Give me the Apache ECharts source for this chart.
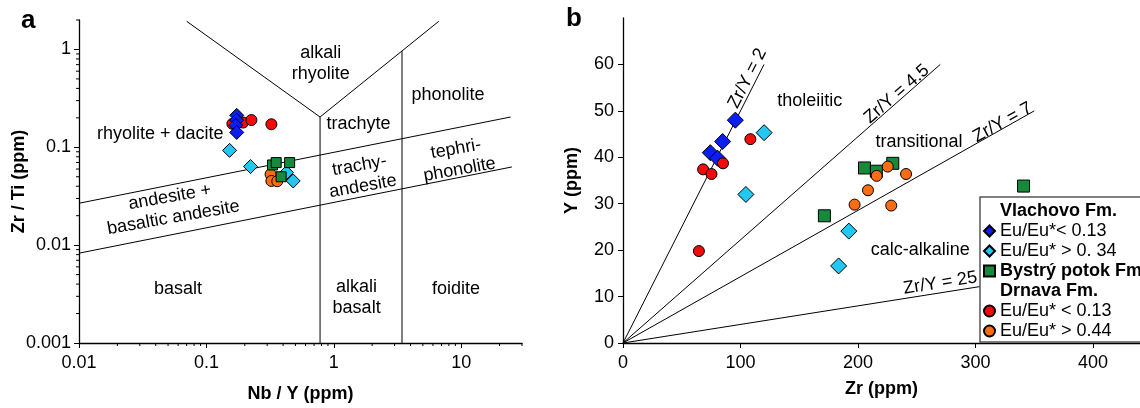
<!DOCTYPE html>
<html>
<head>
<meta charset="utf-8">
<script src="https://cdn.jsdelivr.net/npm/echarts@6/dist/echarts.min.js"></script>
<style>
  html, body { margin: 0; padding: 0; background: #fff; }
  #chart { width: 1140px; height: 408px; }
</style>
</head>
<body>
<div id="chart"></div>
<script>
// ---- data ----
// panel a: Nb/Y vs Zr/Ti (log-log)
const vlachovoLowA = [[0.173, 0.212], [0.173, 0.189], [0.170, 0.168], [0.173, 0.142]];
const vlachovoHighA = [[0.152, 0.093], [0.222, 0.0636], [0.425, 0.0552], [0.48, 0.0453]];
const bystryA = [[0.33, 0.066], [0.353, 0.0698], [0.45, 0.0698], [0.386, 0.050]];
const drnavaLowA = [[0.16, 0.174], [0.194, 0.179], [0.2255, 0.19], [0.3236, 0.172]];
const drnavaHighA = [[0.319, 0.053], [0.3236, 0.0453], [0.36, 0.045]];

// field boundaries (panel a)
const boundaryV = [[0.07, 1.94], [0.78, 0.204], [6.67, 1.94]];
const boundaryLeftVert = [[0.78, 0.204], [0.78, 0.001]];
const boundaryRightVert = [[3.43, 0.96], [3.43, 0.001]];
const boundaryUpper = [[0.01, 0.0268], [24.4, 0.204]];
const boundaryLower = [[0.01, 0.00828], [25, 0.063]];

// field names (panel a): text, x, y, rotation
const fieldNamesA = [
  ['alkali\nrhyolite', 0.789, 0.725, 0],
  ['phonolite', 7.89, 0.342, 0],
  ['trachyte', 1.56, 0.172, 0],
  ['rhyolite + dacite', 0.0435, 0.138, 0],
  ['tephri-\nphonolite', 9.4, 0.0754, 10],
  ['trachy-\nandesite', 1.64, 0.0509, 10],
  ['andesite +\nbasaltic andesite', 0.0533, 0.0243, 10],
  ['basalt', 0.0598, 0.00356, 0],
  ['alkali\nbasalt', 1.51, 0.00292, 0],
  ['foidite', 9.1, 0.00356, 0]
];

// panel b: Zr vs Y
const vlachovoLowB = [[95.6, 48.0], [84.8, 43.4], [74.3, 41.0], [80.5, 39.8]];
const vlachovoHighB = [[120.1, 45.3], [104.6, 32.0], [192.2, 24.1], [183.5, 16.6]];
const bystryB = [[205.5, 37.7], [215.6, 37.0], [229.6, 38.7], [171.4, 27.4], [340.9, 33.8]];
const drnavaLowB = [[68.2, 37.4], [75.3, 36.4], [85.1, 38.7], [108.4, 43.9], [64.6, 19.8]];
const drnavaHighB = [[225.3, 38.0], [215.9, 36.0], [240.9, 36.4], [208.5, 32.9], [197.1, 29.8], [228.3, 29.6]];

// Zr/Y ratio lines: end points from origin
const ratioLines = [
  [[0, 0], [120, 60]],
  [[0, 0], [270, 60]],
  [[0, 0], [350, 50]],
  [[0, 0], [425, 17]]
];
const ratioNames = [
  ['Zr/Y = 2', 106, 57, 63],
  ['Zr/Y = 4.5', 233, 53.6, 41],
  ['Zr/Y = 7', 323, 47.5, 29],
  ['Zr/Y = 25', 270, 12.9, 9],
  ['tholeiitic', 159, 52.1, 0],
  ['transitional', 252, 43.3, 0],
  ['calc-alkaline', 253, 20.1, 0]
];

// log axis minor tick multipliers
const minorMult = [2, 3, 4, 5, 6, 7, 8, 9];
const xDecades = [0.01, 0.1, 1, 10];
const yDecades = [0.001, 0.01, 0.1, 1];

// ---- styles ----
const FONT = '"Liberation Sans", Arial, sans-serif';
const C_BLUE = '#0a1ef0';
const C_LBLUE = '#22c8f2';
const C_GREEN = '#16893a';
const C_RED = '#f50a0a';
const C_ORANGE = '#ff6c12';

const chart = echarts.init(document.getElementById('chart'));

function minorTicks() {
  const out = [];
  xDecades.forEach(d => minorMult.forEach(m => {
    const v = d * m;
    if (v <= 30.0001) out.push([v, 0.001, 0]);
  }));
  yDecades.forEach(d => minorMult.forEach(m => {
    const v = d * m;
    if (v <= 2.0001) out.push([0.01, v, 1]);
  }));
  return out;
}

function logLabel(v) {
  return String(Number(v.toPrecision(3)));
}

const axisLine = { lineStyle: { color: '#000', width: 1.3 } };
const tickLabel = { color: '#000', fontSize: 18, fontFamily: FONT };
const nameStyle = { color: '#000', fontSize: 18, fontWeight: 'bold', fontFamily: FONT };

function boundary(data, xi, yi) {
  return {
    type: 'line', xAxisIndex: xi, yAxisIndex: yi, data: data,
    symbol: 'none', silent: true, z: 1,
    lineStyle: { color: '#000', width: 1 }
  };
}

function points(name, data, symbol, size, color, xi, yi) {
  return {
    type: 'scatter', name: name, xAxisIndex: xi, yAxisIndex: yi,
    data: data, symbol: symbol, symbolSize: size,
    itemStyle: { color: color, borderColor: '#000', borderWidth: 1, opacity: 1 }
  };
}

function names(list, xi, yi) {
  return {
    type: 'scatter', xAxisIndex: xi, yAxisIndex: yi, silent: true,
    symbolSize: 1, itemStyle: { color: 'transparent', opacity: 1 }, z: 3,
    data: list.map(t => ({
      value: [t[1], t[2]],
      label: { formatter: t[0], rotate: t[3] }
    })),
    label: {
      show: true, position: 'inside', color: '#000', opacity: 1, fontSize: 18,
      fontFamily: FONT, lineHeight: 21, align: 'center'
    }
  };
}

const option = {
  animation: false,
  textStyle: { fontFamily: FONT },
  graphic: [
    { type: 'text', left: 21, top: 8, style: { text: 'a', font: 'bold 26px ' + FONT, fill: '#000' } },
    { type: 'text', left: 566, top: 6, style: { text: 'b', font: 'bold 26px ' + FONT, fill: '#000' } }
  ],
  grid: [
    { left: 79, top: 20, width: 443, height: 324 },
    { left: 623, top: 18, width: 519, height: 325 }
  ],
  xAxis: [
    {
      type: 'log', gridIndex: 0, min: 0.01, max: 30, logBase: 10,
      name: 'Nb / Y (ppm)', nameLocation: 'middle', nameGap: 42, nameTextStyle: nameStyle,
      axisLine: axisLine,
      axisTick: { length: 5, lineStyle: { color: '#000' } },
      axisLabel: Object.assign({ margin: 11, showMaxLabel: false, formatter: logLabel }, tickLabel),
      splitLine: { show: false }
    },
    {
      type: 'value', gridIndex: 1, min: 0, max: 440, interval: 100,
      name: 'Zr (ppm)', nameLocation: 'middle', nameGap: 37, nameTextStyle: nameStyle,
      axisLine: axisLine,
      axisTick: { length: 5, lineStyle: { color: '#000' } },
      axisLabel: Object.assign({ margin: 11, showMaxLabel: false }, tickLabel),
      splitLine: { show: false }
    }
  ],
  yAxis: [
    {
      type: 'log', gridIndex: 0, min: 0.001, max: 2, logBase: 10,
      name: 'Zr / Ti (ppm)', nameLocation: 'middle', nameGap: 51, nameMoveOverlap: false,
      nameTextStyle: nameStyle,
      axisLine: axisLine,
      axisTick: { length: 5, lineStyle: { color: '#000' } },
      axisLabel: Object.assign({ margin: 8, showMaxLabel: false, formatter: logLabel }, tickLabel),
      splitLine: { show: false }
    },
    {
      type: 'value', gridIndex: 1, min: 0, max: 70, interval: 10,
      name: 'Y (ppm)', nameLocation: 'middle', nameGap: 42, nameTextStyle: nameStyle,
      axisLine: axisLine,
      axisTick: { length: 5, lineStyle: { color: '#000' } },
      axisLabel: Object.assign({ margin: 9, showMaxLabel: false }, tickLabel),
      splitLine: { show: false }
    }
  ],
  legend: {
    orient: 'vertical', left: 980, top: 197,
    backgroundColor: '#fff', borderColor: '#555', borderWidth: 1.5,
    padding: [5, 40, 2, 3], itemGap: 2, itemWidth: 11, itemHeight: 11,
    textStyle: { fontSize: 18, color: '#000', fontFamily: FONT, lineHeight: 18 },
    selectedMode: false,
    data: [
      { name: 'Vlachovo Fm.', itemStyle: { opacity: 0 }, textStyle: { fontWeight: 'bold' } },
      { name: 'Eu/Eu*< 0.13' },
      { name: 'Eu/Eu* > 0. 34' },
      { name: 'Bystrý potok Fm.', textStyle: { fontWeight: 'bold' } },
      { name: 'Drnava Fm.', itemStyle: { opacity: 0 }, textStyle: { fontWeight: 'bold' } },
      { name: 'Eu/Eu* < 0.13' },
      { name: 'Eu/Eu* > 0.44' }
    ]
  },
  series: [
    // panel a boundaries
    boundary(boundaryV, 0, 0),
    boundary(boundaryLeftVert, 0, 0),
    boundary(boundaryRightVert, 0, 0),
    boundary(boundaryUpper, 0, 0),
    boundary(boundaryLower, 0, 0),
    names(fieldNamesA, 0, 0),
    // minor ticks for the log axes
    {
      type: 'custom', xAxisIndex: 0, yAxisIndex: 0, silent: true, clip: false,
      data: minorTicks(),
      renderItem: function (params, api) {
        const p = api.coord([api.value(0), api.value(1)]);
        const horiz = api.value(2) === 0;
        return {
          type: 'line',
          shape: horiz
            ? { x1: p[0], y1: p[1], x2: p[0], y2: p[1] + 3 }
            : { x1: p[0] - 3, y1: p[1], x2: p[0], y2: p[1] },
          style: { stroke: '#000', lineWidth: 1 }
        };
      }
    },
    // panel a points
    points('Eu/Eu* < 0.13', drnavaLowA, 'circle', 11, C_RED, 0, 0),
    points('Eu/Eu* > 0.44', drnavaHighA, 'circle', 11, C_ORANGE, 0, 0),
    points('Eu/Eu* > 0. 34', vlachovoHighA, 'diamond', 14, C_LBLUE, 0, 0),
    points('Bystrý potok Fm.', bystryA, 'rect', 10, C_GREEN, 0, 0),
    points('Eu/Eu*< 0.13', vlachovoLowA, 'diamond', 14, C_BLUE, 0, 0),

    // panel b ratio lines
    boundary(ratioLines[0], 1, 1),
    boundary(ratioLines[1], 1, 1),
    boundary(ratioLines[2], 1, 1),
    boundary(ratioLines[3], 1, 1),
    names(ratioNames, 1, 1),
    // legend headings (no marks)
    { type: 'scatter', name: 'Vlachovo Fm.', xAxisIndex: 1, yAxisIndex: 1, data: [], symbol: 'rect', itemStyle: { color: 'transparent' } },
    { type: 'scatter', name: 'Drnava Fm.', xAxisIndex: 1, yAxisIndex: 1, data: [], symbol: 'rect', itemStyle: { color: 'transparent' } },
    // panel b points
    points('Eu/Eu*< 0.13', vlachovoLowB, 'diamond', 16, C_BLUE, 1, 1),
    points('Eu/Eu* > 0. 34', vlachovoHighB, 'diamond', 16, C_LBLUE, 1, 1),
    points('Bystrý potok Fm.', bystryB, 'rect', 12, C_GREEN, 1, 1),
    points('Eu/Eu* < 0.13', drnavaLowB, 'circle', 11, C_RED, 1, 1),
    points('Eu/Eu* > 0.44', drnavaHighB, 'circle', 11, C_ORANGE, 1, 1)
  ]
};

chart.setOption(option);
</script>
</body>
</html>
